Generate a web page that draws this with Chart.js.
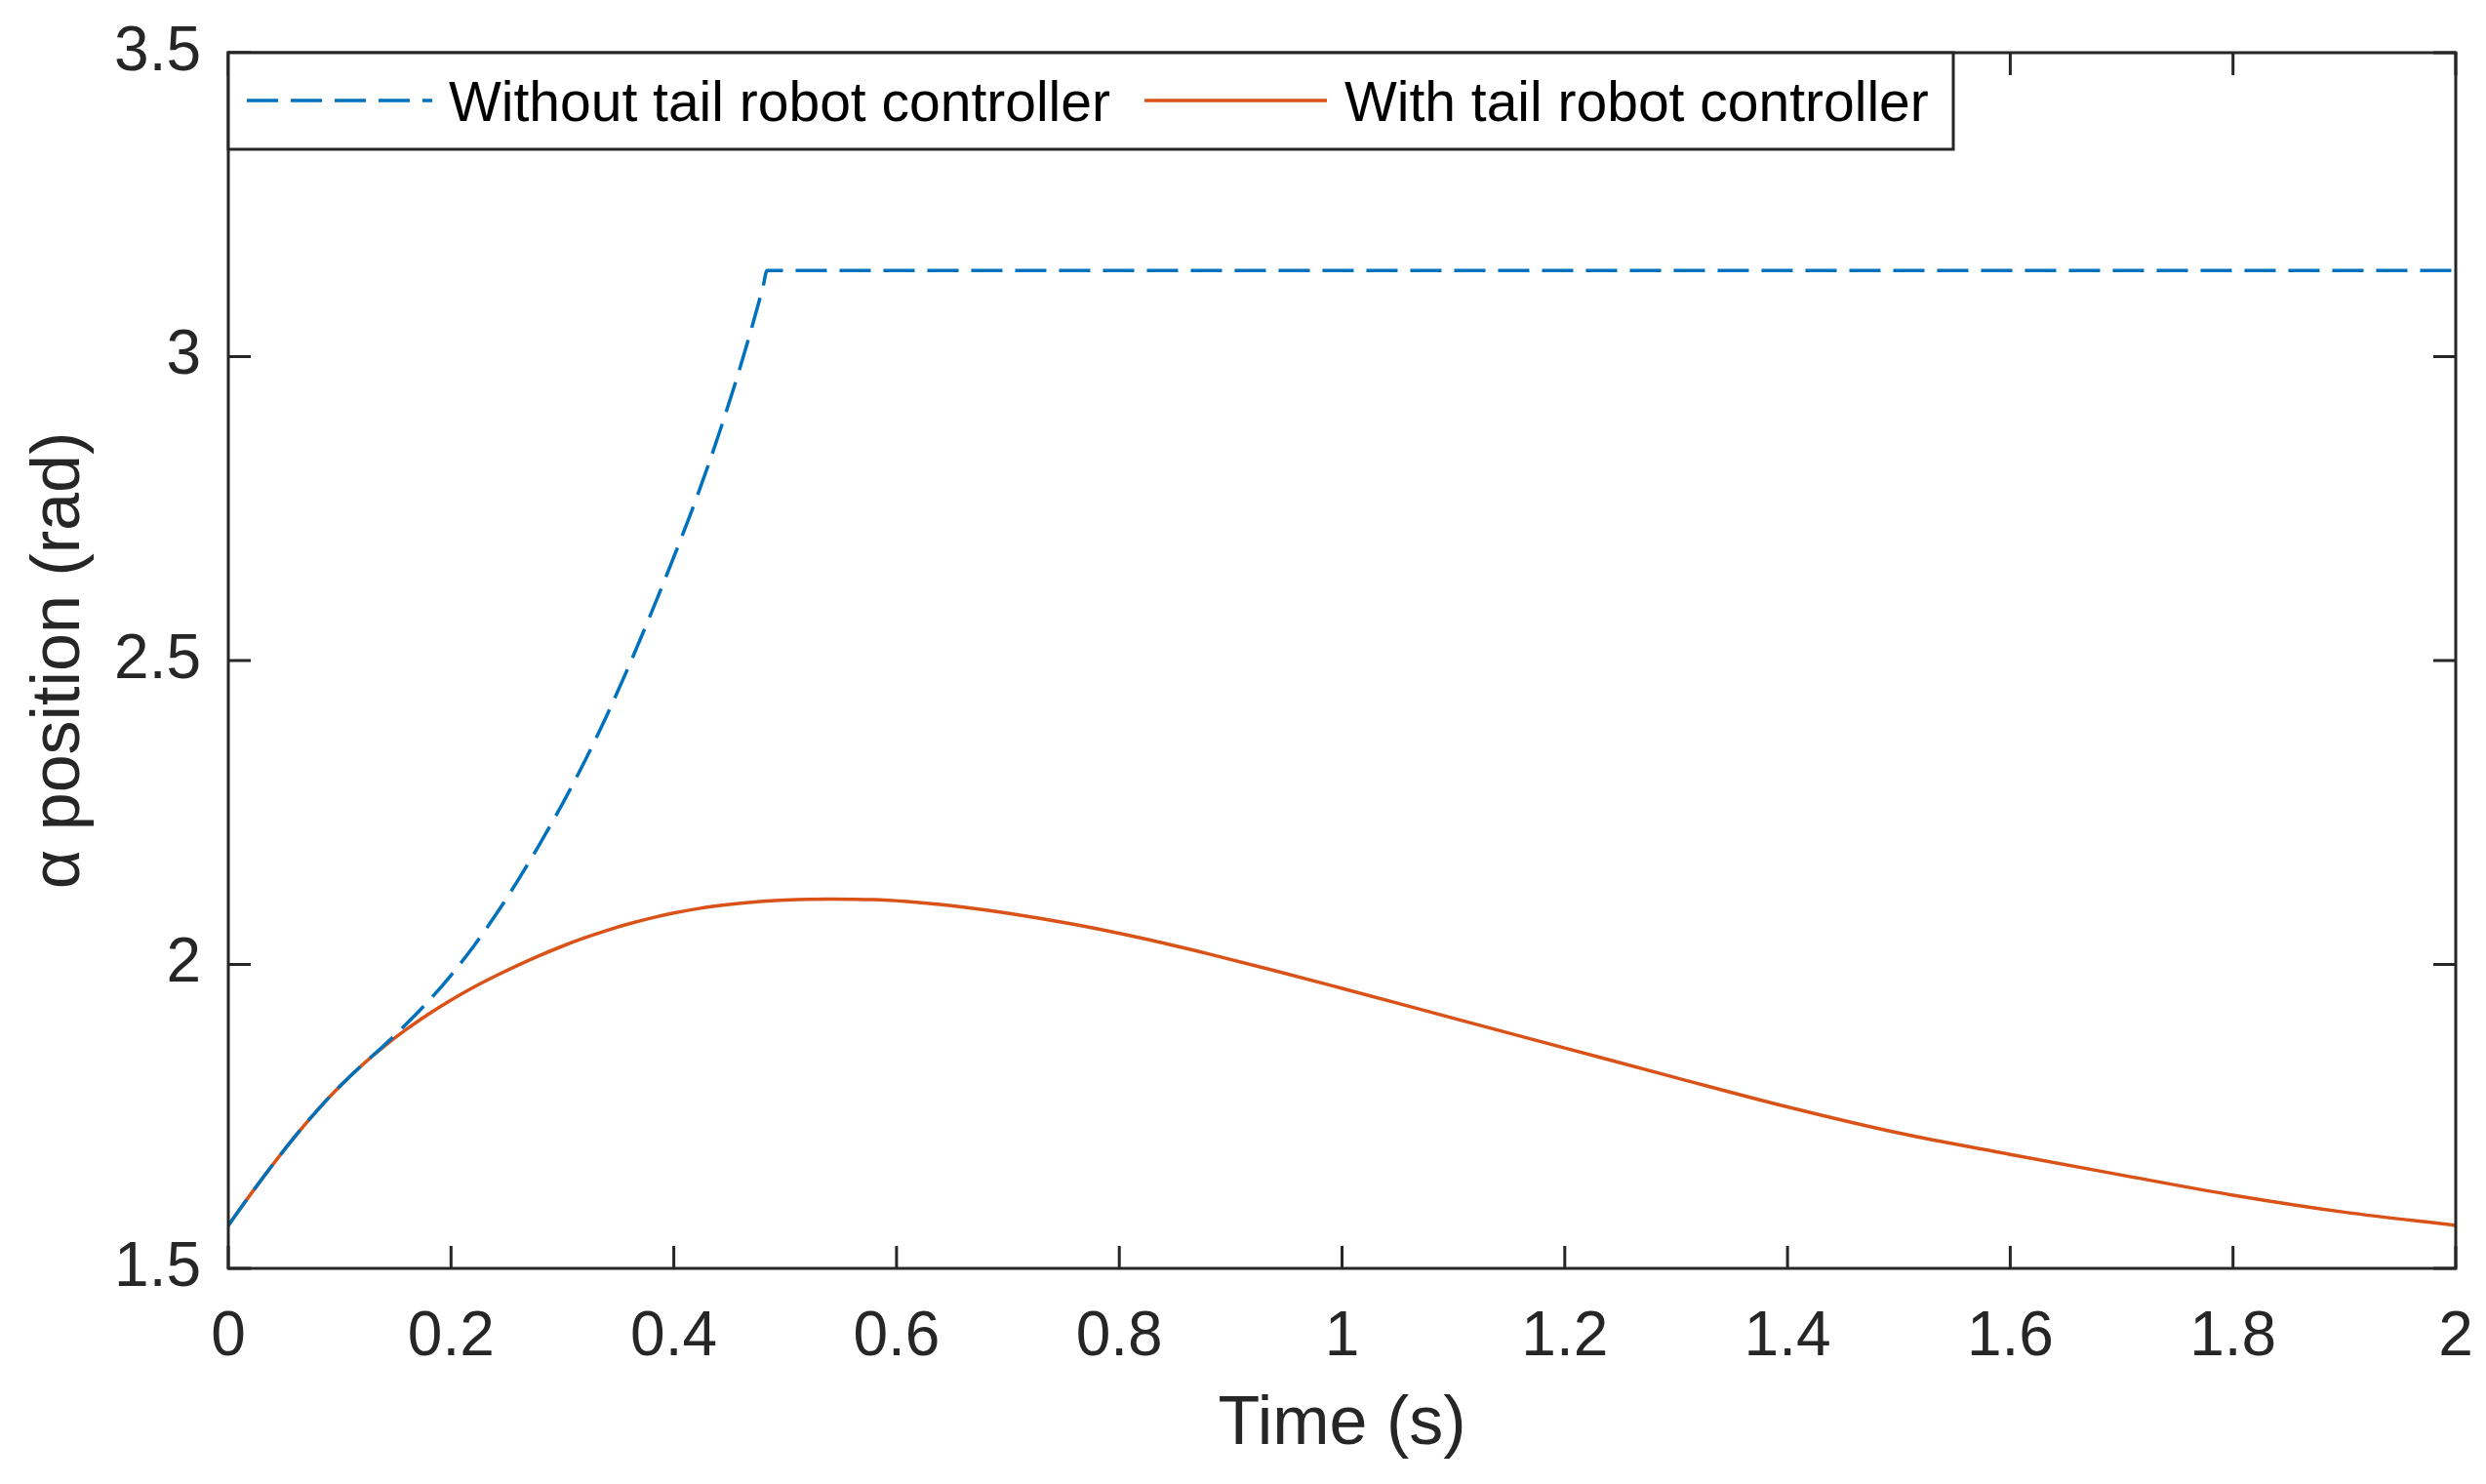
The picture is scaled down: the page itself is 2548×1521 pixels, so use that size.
<!DOCTYPE html>
<html>
<head>
<meta charset="utf-8">
<script src="https://cdn.jsdelivr.net/npm/chart.js@4.4.1/dist/chart.umd.min.js"></script>
<style>
  html, body { margin: 0; padding: 0; background: #fff; }
  canvas { display: block; }
</style>
</head>
<body>
<canvas id="alphaChart" width="2548" height="1521"></canvas>
<script>
// values: time (s) and alpha (rad)
var timeWithout = [0, 0.02, 0.04, 0.06, 0.08, 0.10, 0.12, 0.14, 0.16, 0.18, 0.20, 0.22, 0.24, 0.26,
  0.28, 0.30, 0.32, 0.34, 0.36, 0.38, 0.40, 0.42, 0.44, 0.46, 0.48, 0.4838, 2.0];
var alphaWithout = [1.5708, 1.6218, 1.6708, 1.7173, 1.7603, 1.7993, 1.8343, 1.8673, 1.9023, 1.9403, 1.9823, 2.0293, 2.0813, 2.1383,
  2.1993, 2.2643, 2.3343, 2.4103, 2.4923, 2.5793, 2.6703, 2.7653, 2.870, 2.985, 3.114, 3.1416, 3.1416];

var timeWith = [0, 0.02, 0.04, 0.06, 0.08, 0.10, 0.12, 0.14, 0.16, 0.18, 0.20, 0.22, 0.24, 0.26, 0.28, 0.30,
  0.32, 0.34, 0.36, 0.38, 0.40, 0.42, 0.44, 0.46, 0.48, 0.50, 0.54, 0.58, 0.62, 0.66, 0.70, 0.76, 0.82,
  0.88, 0.94, 1.00, 1.10, 1.20, 1.30, 1.40, 1.50, 1.60, 1.70, 1.80, 1.90, 2.00];
var alphaWith = [1.5708, 1.6218, 1.6708, 1.7173, 1.7603, 1.7993, 1.8343, 1.8655, 1.8934, 1.9186, 1.9415, 1.9623, 1.9811, 1.9986, 2.0150, 2.0301,
  2.0438, 2.0561, 2.0670, 2.0765, 2.0846, 2.0913, 2.0967, 2.1009, 2.1040, 2.1061, 2.1077, 2.1066, 2.1020, 2.0944, 2.0844, 2.0658, 2.0433,
  2.0175, 1.9896, 1.9606, 1.9116, 1.8626, 1.8136, 1.7656, 1.7226, 1.6875, 1.6535, 1.6205, 1.5925, 1.5708];

var xTicks = [0, 0.2, 0.4, 0.6, 0.8, 1, 1.2, 1.4, 1.6, 1.8, 2];
var yTicks = [1.5, 2, 2.5, 3, 3.5];
var seriesLabels = ['Without tail robot controller', 'With tail robot controller'];

var FONT = '"Liberation Sans", Arial, Helvetica, sans-serif';
var AXIS_COLOR = '#262626';

function toPoints(xs, ys) {
  return xs.map(function(x, i) { return { x: x, y: ys[i] }; });
}

// box with inward ticks on all four sides, plus the legend box in the top-left corner
var frameAndLegend = {
  id: 'frameAndLegend',
  afterDatasetsDraw: function(chart) {
    var ctx = chart.ctx, a = chart.chartArea;
    var xs = chart.scales.x, ys = chart.scales.y;
    var tick = 23;
    ctx.save();
    ctx.strokeStyle = AXIS_COLOR;
    ctx.lineWidth = 3;
    ctx.beginPath();
    xTicks.forEach(function(v) {
      var px = xs.getPixelForValue(v);
      ctx.moveTo(px, a.bottom); ctx.lineTo(px, a.bottom - tick);
      ctx.moveTo(px, a.top); ctx.lineTo(px, a.top + tick);
    });
    yTicks.forEach(function(v) {
      var py = ys.getPixelForValue(v);
      ctx.moveTo(a.left, py); ctx.lineTo(a.left + tick, py);
      ctx.moveTo(a.right, py); ctx.lineTo(a.right - tick, py);
    });
    ctx.stroke();
    ctx.strokeRect(a.left, a.top, a.right - a.left, a.bottom - a.top);

    // legend
    var box = { x: a.left, y: a.top, w: 1768, h: 99 };
    ctx.fillStyle = '#fff';
    ctx.fillRect(box.x, box.y, box.w, box.h);
    ctx.strokeRect(box.x, box.y, box.w, box.h);
    var midY = box.y + 49;
    var items = [
      { x0: 253, x1: 443, tx: 460 },
      { x0: 1173, x1: 1360, tx: 1378 }
    ];
    chart.data.datasets.forEach(function(ds, i) {
      var it = items[i];
      ctx.beginPath();
      ctx.strokeStyle = ds.borderColor;
      ctx.lineWidth = ds.borderWidth;
      ctx.setLineDash(ds.borderDash || []);
      ctx.moveTo(it.x0, midY);
      ctx.lineTo(it.x1, midY);
      ctx.stroke();
      ctx.setLineDash([]);
      ctx.fillStyle = '#000';
      ctx.font = '57px ' + FONT;
      ctx.textBaseline = 'alphabetic';
      ctx.textAlign = 'left';
      ctx.fillText(ds.label, it.tx, box.y + 70);
    });
    ctx.restore();
  }
};

new Chart(document.getElementById('alphaChart').getContext('2d'), {
  type: 'line',
  data: {
    datasets: [{
      label: seriesLabels[0],
      data: toPoints(timeWithout, alphaWithout),
      borderColor: '#0072BD',
      borderWidth: 3.5,
      borderDash: [32, 13],
      pointRadius: 0,
      fill: false,
      cubicInterpolationMode: 'monotone'
    }, {
      label: seriesLabels[1],
      data: toPoints(timeWith, alphaWith),
      borderColor: '#D95319',
      borderWidth: 3.5,
      pointRadius: 0,
      fill: false,
      cubicInterpolationMode: 'monotone'
    }]
  },
  options: {
    responsive: false,
    animation: false,
    devicePixelRatio: 1,
    layout: { padding: { top: 54, right: 31, left: 0, bottom: 0 } },
    plugins: { legend: { display: false }, tooltip: { enabled: false } },
    scales: {
      x: {
        type: 'linear',
        min: 0,
        max: 2,
        afterBuildTicks: function(s) { s.ticks = xTicks.map(function(v) { return { value: v }; }); },
        afterFit: function(s) { s.height = 221; s.paddingLeft = 0; s.paddingRight = 0; },
        grid: { display: false, drawTicks: false },
        border: { display: false },
        ticks: {
          color: AXIS_COLOR,
          font: { family: FONT, size: 64 },
          padding: 33,
          maxRotation: 0,
          autoSkip: false,
          callback: function(v) { return String(v); }
        },
        title: {
          display: true,
          text: 'Time (s)',
          color: AXIS_COLOR,
          font: { family: FONT, size: 70 },
          padding: { top: 0, bottom: 18 }
        }
      },
      y: {
        type: 'linear',
        min: 1.5,
        max: 3.5,
        afterBuildTicks: function(s) { s.ticks = yTicks.map(function(v) { return { value: v }; }); },
        afterFit: function(s) { s.width = 234; s.paddingTop = 0; s.paddingBottom = 0; },
        grid: { display: false, drawTicks: false },
        border: { display: false },
        ticks: {
          color: AXIS_COLOR,
          font: { family: FONT, size: 64 },
          padding: 28,
          autoSkip: false,
          callback: function(v) { return String(v); }
        },
        title: {
          display: true,
          text: '\u03b1 position (rad)',
          color: AXIS_COLOR,
          font: { family: FONT, size: 70 },
          padding: { top: 20, bottom: 0 }
        }
      }
    }
  },
  plugins: [frameAndLegend]
});
</script>
</body>
</html>
